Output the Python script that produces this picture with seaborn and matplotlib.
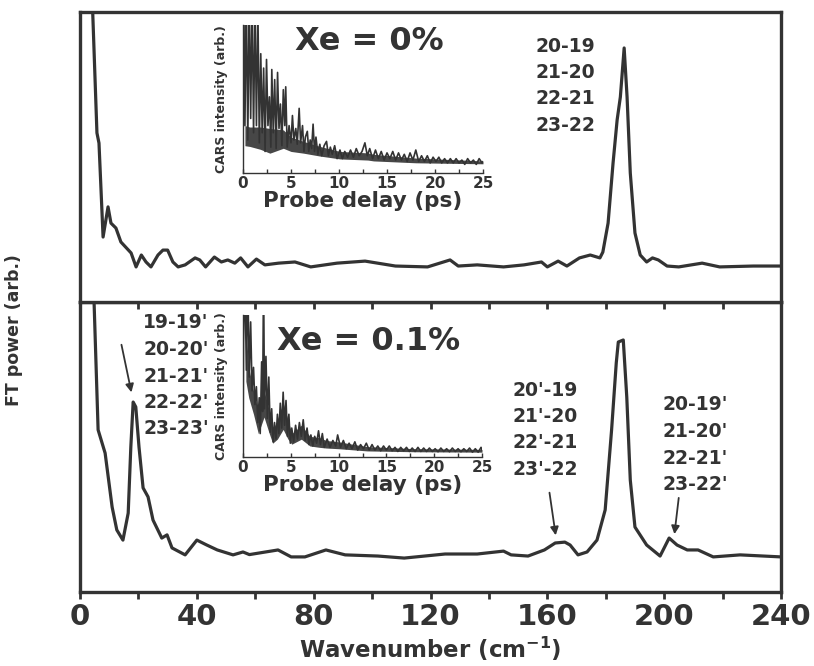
import matplotlib
matplotlib.use("Agg")
import matplotlib.pyplot as plt
from matplotlib.ticker import MultipleLocator, NullLocator
import numpy as np
import pandas as pd
import seaborn as sns

# ---------------- data ----------------
top_wn = [4.0, 5.8, 6.5, 7.9, 9.6, 10.6, 12.3, 14, 17.5, 19.2, 21, 22.6, 24.3, 26.7, 28.4, 30, 31.8,
          33.6, 36, 39.4, 41, 43, 46, 48.4, 50.6, 53, 55, 57.5, 60.4, 63.3, 68, 73.6, 79, 88, 97.6,
          108, 119, 126.7, 129.5, 136, 145, 152, 158, 160, 163.7, 166.7, 171, 174.7, 178, 179,
          180.8, 182.5, 183.9, 185, 186.3, 187.3, 188.4, 190, 191.8, 194, 196, 198, 201, 205, 213,
          219, 230.5, 240]
top_pw = [110, 58.3, 54.8, 22.4, 32.8, 27.2, 25.5, 20.7, 16.9, 12.1, 16.2, 13.8, 12.1, 16.2, 17.9,
          17.9, 13.8, 12.1, 12.8, 15.2, 14.5, 12.1, 15.5, 13.8, 14.5, 13.4, 15.2, 12.1, 14.8, 12.8,
          13.4, 13.8, 12.1, 13.4, 14.1, 12.4, 12.1, 14.5, 12.4, 12.8, 12.1, 12.8, 13.8, 12.1, 14.1,
          12.4, 15.2, 16.2, 15.2, 17.2, 27.2, 47.9, 62.8, 70.7, 87.6, 70.7, 44.5, 23.8, 16.2, 13.8,
          15.2, 14.5, 12.4, 12.1, 13.4, 12.1, 12.4, 12.4]

bot_wn = [4.5, 6.2, 8.6, 11, 12.6, 14.7, 16.5, 17.4, 18.2, 19.1, 20.2, 21.6, 23.3, 25, 28, 29.8,
          31.5, 36, 40, 43.4, 47, 52.4, 55.8, 58, 67.8, 72.3, 77, 84.2, 90.8, 102, 111, 125, 136,
          145, 147.6, 153.4, 159, 162.7, 166, 167.8, 170.5, 173.6, 177, 179.8, 182, 183.6, 184.3,
          186, 187.2, 188.4, 190, 194, 198.6, 201.7, 204.4, 207.9, 211.6, 216.8, 226, 240]
bot_pw = [110, 55.9, 47.9, 29.3, 21.4, 17.9, 27.2, 50, 65.5, 63.8, 50, 35.9, 32.8, 24.8, 18.6,
          19.7, 15.2, 12.8, 17.9, 16.2, 14.5, 12.8, 13.8, 12.9, 14.5, 12.1, 12.1, 14.5, 12.8, 12.4,
          11.7, 13.1, 13.1, 14.1, 12.8, 12.4, 14.5, 16.9, 17.2, 16.2, 12.8, 13.8, 17.9, 28.3, 55.9,
          79, 86.2, 86.9, 67.2, 38.6, 22.4, 16.2, 12.4, 18.6, 16.2, 14.5, 14.5, 12.1, 12.8, 12.1]

ins0_t = [0.0, 0.05, 0.2, 0.35, 0.5, 0.65, 0.8, 0.95, 1.1, 1.25, 1.4, 1.55, 1.7, 1.85, 2.0, 2.15,
          2.3, 2.45, 2.6, 2.75, 2.9, 3.0, 3.15, 3.3, 3.45, 3.6, 3.75, 3.9, 4.05, 4.2, 4.35, 4.45,
          4.6, 4.8, 5.0, 5.15, 5.3, 5.5, 5.65, 5.85, 6.0, 6.2, 6.35, 6.5, 6.7, 6.85, 7.0, 7.15,
          7.3, 7.45, 7.6, 7.8, 8.0, 8.2, 8.45, 8.7, 8.9, 9.1, 9.3, 9.55, 9.8, 10.1, 10.35, 10.6,
          10.9, 11.2, 11.5, 11.8, 12.1, 12.4, 12.7, 12.95, 13.2, 13.5, 13.8, 14.1, 14.4, 14.7,
          15.0, 15.3, 15.6, 15.9, 16.2, 16.5, 16.8, 17.1, 17.4, 17.7, 18.0, 18.3, 18.6, 18.9,
          19.2, 19.5, 19.8, 20.1, 20.4, 20.7, 21.0, 21.3, 21.6, 21.9, 22.2, 22.5, 22.8, 23.1,
          23.4, 23.7, 24.0, 24.3, 24.6, 24.9, 25.0]
ins0_s = [0, 120, 30, 120, 20, 120, 35, 120, 25, 115, 30, 112, 18, 80, 25, 70, 12, 76, 30, 50, 15,
          69, 25, 62, 14, 67, 28, 45, 16, 55, 30, 57, 15, 30, 18, 37, 20, 28, 17, 42, 18, 30, 12,
          22, 26, 12, 20, 14, 31, 12, 22, 10, 17, 9, 16, 19, 9, 15, 10, 16, 7, 13, 7, 12, 8, 13, 8,
          14, 9, 12, 18, 9, 14, 7, 13, 7, 12, 6, 11, 7, 12, 6, 11, 6, 10, 5, 11, 6, 13, 5, 9, 5, 9,
          4, 8, 5, 8, 4, 7, 4, 7, 4, 7, 4, 6, 3, 7, 4, 6, 3, 7, 4, 5]
# dense band of the 0% trace (lower edge / upper edge of the solid dark region)
ins0_band_t = [0.2, 0.7, 1.8, 2.8, 4.2, 5.0, 6.3, 8.0, 10.1, 13.0, 13.6, 18.0, 25.0]
ins0_band_lo = [16, 15.5, 13.5, 10.8, 14.2, 12, 10.8, 8.8, 6.8, 6, 5.4, 4.1, 3.4]
ins0_band_hi = [30, 29, 29, 28, 27, 22, 19, 15.5, 12, 11, 10, 7.4, 5.4]

ins1_t = [0.0, 0.05, 0.2, 0.35, 0.5, 0.65, 0.8, 0.95, 1.1, 1.25, 1.4, 1.55, 1.7, 1.8, 1.95, 2.05,
          2.15, 2.25, 2.4, 2.55, 2.7, 2.85, 3.0, 3.15, 3.3, 3.45, 3.6, 3.75, 3.9, 4.05, 4.2, 4.35,
          4.5, 4.65, 4.8, 4.95, 5.1, 5.3, 5.5, 5.7, 5.9, 6.1, 6.3, 6.5, 6.7, 6.9, 7.1, 7.3, 7.5,
          7.7, 7.9, 8.1, 8.3, 8.5, 8.8, 9.1, 9.4, 9.7, 9.9, 10.2, 10.5, 10.8, 11.1, 11.4, 11.7,
          12.0, 12.3, 12.6, 12.9, 13.2, 13.5, 13.8, 14.1, 14.4, 14.7, 15.0, 15.3, 15.6, 15.9,
          16.2, 16.5, 16.8, 17.1, 17.4, 17.7, 18.0, 18.3, 18.6, 18.9, 19.2, 19.5, 19.8, 20.1,
          20.4, 20.7, 21.0, 21.3, 21.6, 21.9, 22.2, 22.5, 22.8, 23.1, 23.4, 23.7, 24.0, 24.3,
          24.6, 24.9, 25.0]
ins1_s = [0, 80, 130, 60, 125, 55, 95, 45, 62, 35, 48, 22, 40, 14, 66, 30, 130, 32, 70, 25, 55,
          15, 32, 8, 22, 10, 28, 14, 36, 18, 44, 20, 38, 12, 28, 7, 18, 8, 20, 10, 22, 12, 24, 9,
          18, 6, 13, 5, 12, 7, 16, 6, 14, 4, 10, 4, 9, 5, 13, 4, 9, 3, 7, 3, 8, 2, 6, 3, 7, 2, 6,
          2, 5, 1.5, 5, 2, 5, 1.5, 4, 1, 4, 1.5, 4, 1, 3.5, 1, 4, 1, 3.5, 1, 3.5, 1, 3, 0.8, 3.5,
          1, 3, 0.8, 3.5, 1, 3, 0.8, 3, 1, 3.5, 0.5, 3, 0.5, 4, 2]
ins1_band_t = [0.3, 0.6, 1.1, 1.6, 2.2, 2.7, 3.1, 3.6, 4.2, 4.7, 5.1, 6.1, 7.0, 8.0, 8.7, 10.0,
               13.0, 18.0, 25.0]
ins1_band_lo = [52, 40, 28, 14, 26, 15, 7, 10, 17, 10, 6.3, 9.9, 5, 4, 3.5, 3, 1.4, 0.8, 0.5]
ins1_band_hi = [90, 62, 45, 30, 45, 32, 16, 24, 36, 24, 14, 20, 12, 11, 9, 8, 4.5, 3, 2.5]

wn_ticks = [0, 40, 80, 120, 160, 200, 240]
delay_ticks = [0, 5, 10, 15, 20, 25]
top_labels = ["20-19", "21-20", "22-21", "23-22"]
left_labels = ["19-19'", "20-20'", "21-21'", "22-22'", "23-23'"]
mid_labels = ["20'-19", "21'-20", "22'-21", "23'-22"]
right_labels = ["20-19'", "21-20'", "22-21'", "23-22'"]

# ---------------- style ----------------
sns.set_theme(style="white")
plt.rcParams["font.family"] = ["DejaVu Sans"]
plt.rcParams["font.weight"] = "bold"
plt.rcParams["mathtext.default"] = "bf"
INK = "#333333"
W, H = 814, 666

def fx(px):
    return px / W

def fy(py):
    return 1 - py / H

fig = plt.figure(figsize=(W / 100, H / 100), dpi=100)
ax_bot = fig.add_axes([fx(80), fy(592), fx(781) - fx(80), fy(302) - fy(592)])
ax_top = fig.add_axes([fx(80), fy(302), fx(781) - fx(80), fy(12) - fy(302)])
ax_bot.patch.set_alpha(0)

sns.lineplot(x=top_wn, y=top_pw, ax=ax_top, color=INK, lw=2.3, sort=False)
sns.lineplot(x=bot_wn, y=bot_pw, ax=ax_bot, color=INK, lw=2.3, sort=False)

for ax in (ax_top, ax_bot):
    ax.set_xlim(0, 240)
    ax.set_ylim(0, 100)
    ax.yaxis.set_major_locator(NullLocator())
    ax.set_ylabel("")
    for s in ax.spines.values():
        s.set_linewidth(2.4)
        s.set_color(INK)
    ax.xaxis.set_major_locator(MultipleLocator(40))
    ax.xaxis.set_minor_locator(MultipleLocator(20))
    ax.tick_params(axis="x", which="both", bottom=True, top=False, direction="out",
                   length=5, width=2, color=INK)

ax_top.tick_params(axis="x", labelbottom=False)
ax_bot.set_xticks(wn_ticks)
ax_bot.set_xticklabels([str(t) for t in wn_ticks], fontsize=21, fontweight="bold", color=INK)
ax_bot.tick_params(axis="x", pad=3)
ax_bot.set_xlabel(r"Wavenumber (cm$^{-1}$)", fontsize=16.5, fontweight="bold", color=INK,
                  labelpad=3)
fig.text(fx(14), fy(330), "FT power (arb.)", rotation=90, ha="center", va="center",
         fontsize=12.5, fontweight="bold", color=INK)

# ---------------- insets ----------------
def inset(rect, t, s, bt, blo, bhi):
    ia = fig.add_axes(rect)
    ia.fill_between(bt, blo, bhi, color=INK, alpha=0.9, lw=0)
    sns.lineplot(x=t, y=s, ax=ia, color=INK, lw=1.2, sort=False)
    ia.set_xlim(0, 25)
    ia.set_ylim(-3, 100)
    ia.yaxis.set_major_locator(NullLocator())
    ia.spines["top"].set_visible(False)
    ia.spines["right"].set_visible(False)
    for k in ("left", "bottom"):
        ia.spines[k].set_linewidth(1.0)
        ia.spines[k].set_color(INK)
    ia.set_xticks(delay_ticks)
    ia.xaxis.set_minor_locator(MultipleLocator(2.5))
    ia.set_xticklabels([str(t) for t in delay_ticks], fontsize=11, fontweight="bold", color=INK)
    ia.tick_params(axis="x", which="both", direction="in", length=3, width=1, color=INK, pad=2,
                   bottom=True)
    ia.set_xlabel("Probe delay (ps)", fontsize=15.5, fontweight="bold", color=INK, labelpad=0)
    ia.set_ylabel("CARS intensity (arb.)", fontsize=9, fontweight="bold", color=INK, labelpad=11)
    ia.patch.set_alpha(0)
    return ia

inset([fx(243), fy(173), fx(483) - fx(243), fy(25) - fy(173)], ins0_t, ins0_s,
      ins0_band_t, ins0_band_lo, ins0_band_hi)
inset([fx(243), fy(457), fx(482) - fx(243), fy(315) - fy(457)], ins1_t, ins1_s,
      ins1_band_t, ins1_band_lo, ins1_band_hi)

# ---------------- annotations ----------------
fig.text(fx(369), fy(42), "Xe = 0%", ha="center", va="center", fontsize=23,
         fontweight="bold", color=INK)
fig.text(fx(369), fy(342), "Xe = 0.1%", ha="center", va="center", fontsize=23,
         fontweight="bold", color=INK)

LFS = 13.5
for i, lab in enumerate(top_labels):
    fig.text(fx(565), fy(46 + i * 26.5), lab, ha="center", va="center", fontsize=LFS,
             fontweight="bold", color=INK)
for i, lab in enumerate(left_labels):
    fig.text(fx(176), fy(323 + i * 26.5), lab, ha="center", va="center", fontsize=LFS,
             fontweight="bold", color=INK)
for i, lab in enumerate(mid_labels):
    fig.text(fx(545), fy(390 + i * 26.5), lab, ha="center", va="center", fontsize=LFS,
             fontweight="bold", color=INK)
for i, lab in enumerate(right_labels):
    fig.text(fx(695), fy(405 + i * 26.5), lab, ha="center", va="center", fontsize=LFS,
             fontweight="bold", color=INK)

arrow_kw = dict(arrowstyle="-|>", color=INK, lw=1.3, mutation_scale=12)
ax_bot.annotate("", xy=(17.8, 67.9), xytext=(14.0, 86.2), arrowprops=arrow_kw)
ax_bot.annotate("", xy=(163.0, 18.6), xytext=(160.6, 35.2), arrowprops=arrow_kw)
ax_bot.annotate("", xy=(203.4, 19.0), xytext=(205.1, 33.4), arrowprops=arrow_kw)

fig.savefig("out.png", dpi=100, facecolor="white")
